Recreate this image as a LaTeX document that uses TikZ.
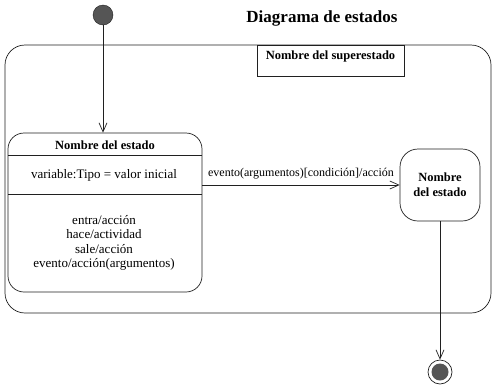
\documentclass[tikz,border=0pt]{standalone}
\usepackage{fontspec}
\setmainfont{Liberation Serif}
\usetikzlibrary{arrows.meta}
\definecolor{dotgray}{HTML}{555555}
\definecolor{linegray}{HTML}{202020}
\tikzset{
  conn/.style={draw=linegray, line width=0.7pt, -{Straight Barb[length=9pt,width=8pt,line width=0.7pt]}},
  frame/.style={draw=linegray, line width=0.7pt},
  txt/.style={font=\fontsize{13}{14.4}\selectfont, align=center, inner sep=0},
  boldtxt/.style={font=\fontsize{12.5}{15}\selectfont\bfseries, align=center, inner sep=0},
}
\begin{document}
\begin{tikzpicture}[x=1pt,y=-1pt]
\useasboundingbox (0,0) rectangle (492,386);
% title
\node[inner sep=0, font=\fontsize{17}{19}\selectfont\bfseries] (title) at (322,18) {Diagrama de estados};
% superstate
\node[frame, rectangle, rounded corners=20pt, minimum width=486pt, minimum height=268pt, inner sep=0] (super) at (248,179) {};
\node[frame, rectangle, minimum width=147pt, minimum height=31pt, inner sep=0] (tab) at (330.5,60.5) {};
\node[boldtxt, font=\fontsize{12.5}{14}\selectfont\bfseries] (tabtxt) at (330.5,56) {Nombre del superestado};
% initial
\node[circle, fill=dotgray, draw=linegray, minimum size=20pt, inner sep=0] (init) at (103,15) {};
% state 1
\node[frame, rectangle, rounded corners=16pt, minimum width=194pt, minimum height=159pt, inner sep=0] (s1) at (105,212.5) {};
\coordinate (l1) at (8,155);
\coordinate (l2) at (8,194);
\draw[frame] (l1) -- (l1 -| s1.east);
\draw[frame] (l2) -- (l2 -| s1.east);
\node[boldtxt] (s1name) at (105,145) {Nombre del estado};
\node[txt] (s1var) at (104,175) {variable:Tipo = valor inicial};
\node[txt] (s1act) at (104,243) {entra/acción\\hace/actividad\\sale/acción\\evento/acción(argumentos)};
% state 2
\node[frame, rectangle, rounded corners=18pt, minimum width=80pt, minimum height=72pt, boldtxt] (s2) at (440,185) {Nombre\\del estado};
% final
\node[circle, draw=linegray, line width=0.7pt, minimum size=24pt, inner sep=0] (final) at (440,372) {};
\fill[dotgray] (final.center) circle (8.5);
% connectors
\draw[conn] (init) -- (init |- s1.north);
\draw[conn] (s2.west -| s1.east) -- node[above=6pt, inner sep=0, font=\fontsize{12}{14}\selectfont] (tlabel) {evento(argumentos)[condición]/acción} (s2.west);
\draw[conn] (s2.south) -- (final.north);
\end{tikzpicture}
\end{document}
